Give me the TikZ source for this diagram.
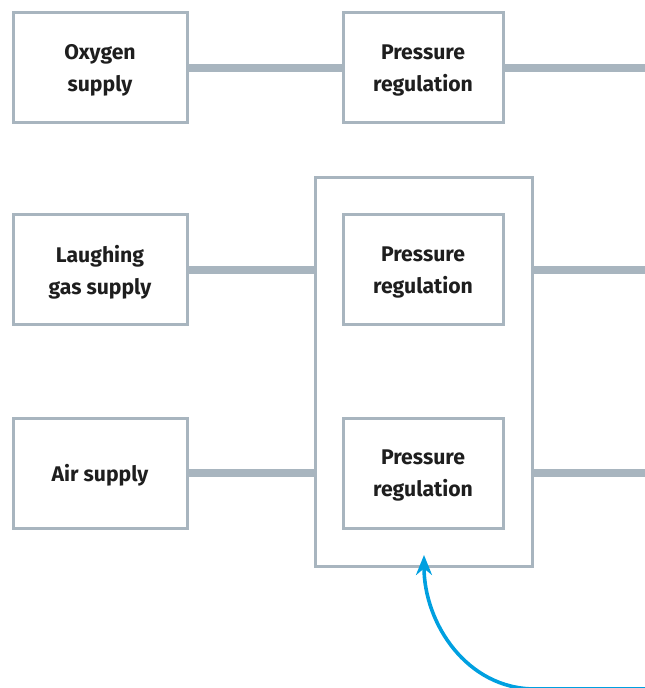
\documentclass[tikz,border=0pt]{standalone}
\usepackage{fontspec}
\setmainfont{Fira Sans}
\usetikzlibrary{arrows.meta, positioning, calc}
\definecolor{linegray}{HTML}{A8B5BF}
\definecolor{arrowblue}{HTML}{00A0E0}
\definecolor{textdark}{HTML}{1E1E1E}

\tikzset{
    unitbox/.style = {draw=linegray, line width=1.5pt, fill=white,
        minimum width=87pt, minimum height=55pt, align=center,
        text depth=0pt,
        text=textdark, font=\fontsize{10.6}{16}\selectfont\bfseries},
    regbox/.style = {unitbox, minimum width=80pt},
    pipe/.style = {linegray, line width=4pt}
}

\begin{document}
\begin{tikzpicture}[x = 0.5pt, y = -0.5pt]

    \useasboundingbox (0,0) rectangle (644,688);

    % Rahmen um die zwei Regler
    \node[draw=linegray, line width=1.5pt, minimum width=108.5pt, minimum height=194pt]
        (frame) at (423.5,372) {};

    % Versorgung
    \node[unitbox] (oxy)   at (100,68)  {Oxygen\\supply};
    \node[unitbox] (laugh) at (100,270) {Laughing\\gas supply};
    \node[unitbox] (air)   at (100,473) {Air supply};

    % Druckregelung
    \node[regbox] (reg1) at (423,68)  {Pressure\\regulation};
    \node[regbox] (reg2) at (423,270) {Pressure\\regulation};
    \node[regbox] (reg3) at (423,473) {Pressure\\regulation};

    % freie Enden rechts
    \coordinate (out1) at (648,68);
    \coordinate (out2) at (648,270);
    \coordinate (out3) at (648,473);

    % Leitungen
    \draw[pipe] (oxy) -- (reg1);
    \draw[pipe] (reg1) -- (out1);
    \draw[pipe] (laugh) -- (laugh -| frame.west);
    \draw[pipe] (laugh -| frame.east) -- (out2);
    \draw[pipe] (air) -- (air -| frame.west);
    \draw[pipe] (air -| frame.east) -- (out3);

    % Pfeil von unten
    \coordinate (tail) at (660,689);
    \coordinate (tip) at (424,555);
    \draw[arrowblue, line width=1.8pt, -{Stealth[length=10pt, width=8pt]}]
        (tail) -- (535,689) to[out=180, in=-90] (tip);

\end{tikzpicture}
\end{document}
